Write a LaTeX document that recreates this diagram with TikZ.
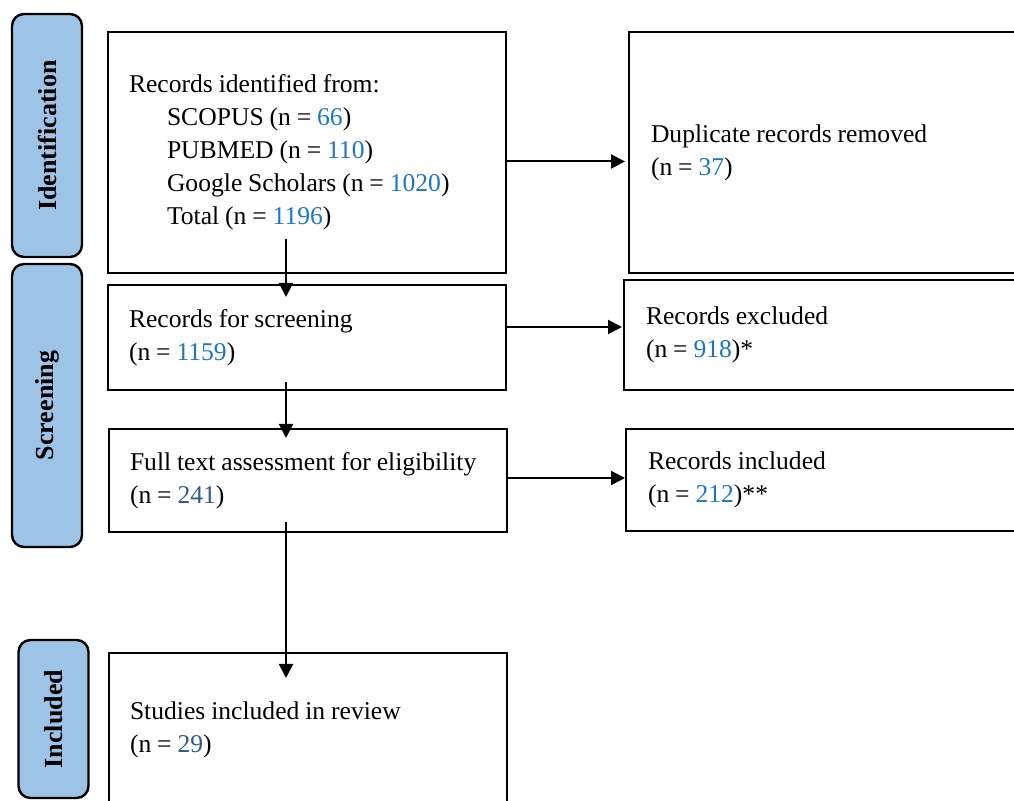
\documentclass[tikz,border=0pt]{standalone}
\usepackage{fontspec}
\setmainfont{Liberation Serif}
\usepackage{xcolor}
\usetikzlibrary{arrows.meta}

\definecolor{numblue}{RGB}{28,118,200}
\definecolor{numdark}{RGB}{46,90,140}
\definecolor{phasefill}{RGB}{157,195,230}
\newcommand{\nb}[1]{\textcolor{numblue}{#1}}
\newcommand{\nd}[1]{\textcolor{numdark}{#1}}

\tikzset{
  box/.style={draw, line width=1pt, rectangle, anchor=north west, align=left,
    inner xsep=10.5pt, font=\fontsize{12.8}{16.5}\selectfont,
    execute at begin node={\spaceskip=0.23em\relax\hyphenpenalty=10000\relax}},
  leftbox/.style={box, text width=178pt},
  rightbox/.style={box, inner xsep=11pt, text width=190pt},
  phase/.style={draw, line width=1.2pt, fill=phasefill, rounded corners=6pt,
    rotate=90, minimum height=35pt, font=\fontsize{13}{14}\selectfont\bfseries},
  flow/.style={->, line width=1pt},
}

\begin{document}
\begin{tikzpicture}[x=0.5pt, y=-0.5pt, >={Triangle[length=7pt,width=7pt]}]
    \useasboundingbox (0,0) rectangle (1014,801);
    \clip (0,0) rectangle (1014,801);

    % phases
    \node[phase, minimum width=121.5pt] (pid) at (47,135.5) {Identification};
    \node[phase, minimum width=141.5pt] (pscr) at (47,405.5) {Screening};
    \node[phase, minimum width=79pt] (pinc) at (53.5,719) {Included};

    % left column
    \node[leftbox, minimum height=120.5pt] (ident) at (107,31) {Records identified from:\\
        \hspace*{19pt}SCOPUS (n = \nb{66})\\
        \hspace*{19pt}PUBMED (n = \nb{110})\\
        \hspace*{19pt}Google Scholars (n = \nb{1020})\\
        \hspace*{19pt}Total (n = \nb{1196})};
    \node[leftbox, minimum height=52.5pt] (screen) at (107,284) {Records for screening\\(n = \nb{1159})};
    \node[leftbox, minimum height=51.5pt] (full) at (108,428) {Full text assessment for eligibility\\(n = \nd{241})};
    \node[leftbox, minimum height=77pt] (review) at (108,652) {Studies included in review\\(n = \nd{29})};

    % right column
    \node[rightbox, minimum height=120.5pt] (dup) at (628,31) {Duplicate records removed\\(n = \nb{37})};
    \node[rightbox, minimum height=55pt] (excl) at (623,279) {Records excluded\\(n = \nb{918})*};
    \node[rightbox, minimum height=51pt] (incl) at (625,428) {Records included\\(n = \nb{212})**};

    % down
    \draw[flow, shorten <=-17.5pt, shorten >=-6.5pt] ([xshift=-10.5pt]ident.south) -- ([xshift=-10.5pt]ident.south |- screen.north);
    \draw[flow, shorten <=-4.5pt, shorten >=-5pt] ([xshift=-10.5pt]screen.south) -- ([xshift=-10.5pt]screen.south |- full.north);
    \draw[flow, shorten <=-5.5pt, shorten >=-13pt] ([xshift=-11pt]full.south) -- ([xshift=-11pt]full.south |- review.north);

    % across
    \draw[flow, shorten >=1.5pt] ([yshift=-4.5pt]ident.east) -- ([yshift=-4.5pt]ident.east -| dup.west);
    \draw[flow, shorten >=0.5pt] ([yshift=5.25pt]screen.east) -- ([yshift=5.25pt]screen.east -| excl.west);
    \draw[flow, shorten >=0pt] ([yshift=1.25pt]full.east) -- ([yshift=1.25pt]full.east -| incl.west);
\end{tikzpicture}
\end{document}
